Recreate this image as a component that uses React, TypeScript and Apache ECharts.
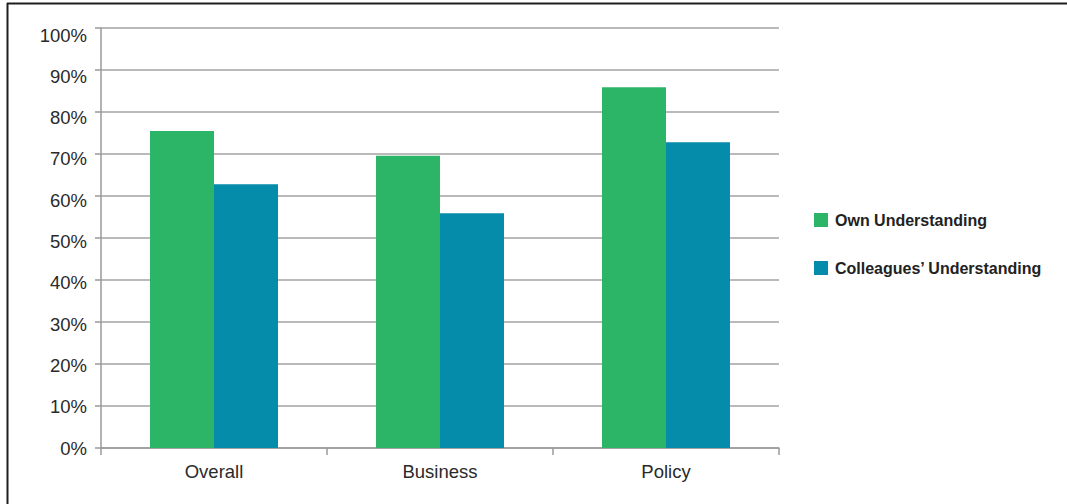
import React, { useEffect, useRef } from "react";
import * as echarts from "echarts";

const categories = ["Overall", "Business", "Policy"];
const ownUnderstanding = [75.5, 69.6, 85.9];
const colleaguesUnderstanding = [62.8, 55.9, 72.8];
const seriesNames = ["Own Understanding", "Colleagues\u2019 Understanding"];

const FONT = "'Liberation Sans', Arial, Helvetica, sans-serif";

export default function App() {
  const ref = useRef<HTMLDivElement>(null);
  useEffect(() => {
    if (!ref.current) return;
    const chart = echarts.init(ref.current, undefined, { renderer: "svg" });
    chart.setOption({
      animation: false,
      backgroundColor: "#ffffff",
      grid: { left: 101, right: 288, top: 28, bottom: 56, containLabel: false },
      legend: {
        orient: "vertical",
        left: 809,
        top: 207,
        itemWidth: 14,
        itemHeight: 14,
        itemGap: 32,
        icon: "rect",
        textStyle: {
          fontFamily: FONT,
          fontSize: 16,
          fontWeight: "bold",
          color: "#222",
          padding: [0, 0, 0, 2],
        },
        data: seriesNames,
      },
      xAxis: {
        type: "category",
        data: categories,
        axisLine: { lineStyle: { color: "#9a9a9a", width: 1.5 } },
        axisTick: { show: true, length: 7, lineStyle: { color: "#9a9a9a", width: 1.5 } },
        axisLabel: { fontFamily: FONT, fontSize: 18.5, color: "#2a2a2a", margin: 14 },
      },
      yAxis: [
        {
          type: "value",
          min: 0,
          max: 100,
          interval: 10,
          axisLine: { show: true, lineStyle: { color: "#9a9a9a", width: 1.5 } },
          axisTick: { show: true, length: 6, lineStyle: { color: "#9a9a9a", width: 1.5 } },
          splitLine: { show: true, lineStyle: { color: "#a3a3a3", width: 1.5 } },
          axisLabel: { show: false },
        },
        {
          type: "value",
          position: "left",
          min: 0,
          max: 101.7,
          interval: 10,
          axisLine: { show: false },
          axisTick: { show: false },
          splitLine: { show: false },
          axisLabel: {
            fontFamily: FONT,
            fontSize: 18.5,
            color: "#2a2a2a",
            margin: 14,
            showMaxLabel: false,
            formatter: (v: number) => (Math.abs(v % 10) < 1e-6 ? `${Math.round(v)}%` : ""),
          },
        },
      ],
      series: [
        {
          name: seriesNames[0],
          type: "bar",
          data: ownUnderstanding,
          barWidth: 64,
          barGap: "0%",
          yAxisIndex: 0,
          itemStyle: { color: "#2cb567" },
        },
        {
          name: seriesNames[1],
          type: "bar",
          data: colleaguesUnderstanding,
          barWidth: 64,
          barGap: "0%",
          yAxisIndex: 0,
          itemStyle: { color: "#068cab" },
        },
      ],
      graphic: [
        {
          type: "line",
          shape: { x1: 7, y1: 3.5, x2: 1067, y2: 3.5 },
          style: { stroke: "#1e1e1e", lineWidth: 2 },
        },
        {
          type: "line",
          shape: { x1: 7.5, y1: 3, x2: 7.5, y2: 504 },
          style: { stroke: "#1e1e1e", lineWidth: 2 },
        },
      ],
    });
    return () => chart.dispose();
  }, []);
  return (
    <div
      ref={ref}
      style={{ position: "fixed", left: 0, top: 0, width: 1067, height: 504 }}
    />
  );
}
